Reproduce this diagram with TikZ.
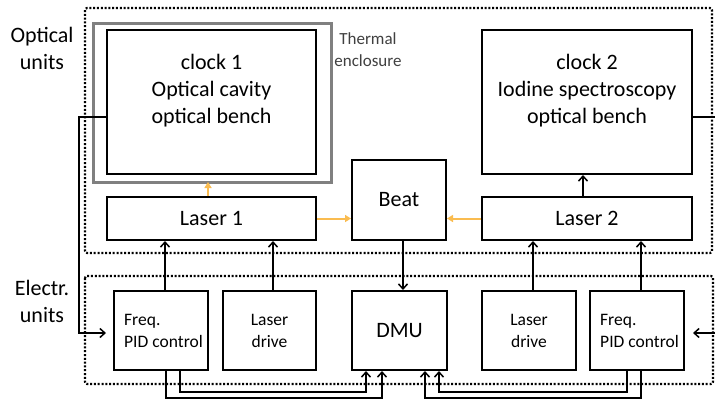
\documentclass[tikz,border=0pt]{standalone}
\usepackage{fontspec}
\setmainfont{Carlito}
\usetikzlibrary{arrows.meta,calc}
\definecolor{laserorange}{RGB}{250,188,80}
\definecolor{encgray}{RGB}{128,128,128}
\definecolor{txtgray}{RGB}{64,64,64}
\begin{document}
\begin{tikzpicture}[x=1pt,y=-1pt,
  box/.style={draw,line width=2pt,inner sep=0pt},
  bigtxt/.style={font=\fontsize{22}{27}\selectfont,align=center,inner sep=0pt},
  smalltxt/.style={font=\fontsize{17.5}{22}\selectfont,inner sep=0pt},
  conn/.style={line width=1.5pt,-{Straight Barb[length=5pt,width=9pt,line width=1.5pt]}},
  beam/.style={line width=2pt,laserorange,-{Triangle[length=6pt,width=7pt]}},
  unitbox/.style={line width=2.2pt,dash pattern=on 2pt off 1.8pt,rounded corners=2pt}]
\useasboundingbox (0,0) rectangle (715,402);
\clip (0,0) rectangle (715,402);
\fill[white] (0,0) rectangle (715,402);
% unit frames
\draw[unitbox] (85,8) rectangle (712,253);
\draw[unitbox] (85,276) rectangle (713,384);
\node[bigtxt] (optlbl) at (42,48) {Optical\\units};
\node[bigtxt] (eleclbl) at (42,301) {Electr.\\units};
% thermal enclosure
\draw[encgray,line width=3pt] (93,23) rectangle (331,182);
\node[font=\fontsize{17}{22}\selectfont,text=txtgray,align=center,inner sep=0pt] (thermlbl) at (368,50) {Thermal\\enclosure};
% optical boxes
\node[box,minimum width=209pt,minimum height=144pt] (clock1) at (211.5,102) {};
\node[bigtxt] (clock1txt) at (211.5,90.5) {clock 1\\Optical cavity\\optical bench};
\node[box,minimum width=210pt,minimum height=144pt] (clock2) at (587,102) {};
\node[bigtxt] (clock2txt) at (587,90.5) {clock 2\\Iodine spectroscopy\\optical bench};
\node[box,minimum width=209pt,minimum height=43pt,bigtxt] (laser1) at (211.5,218.5) {Laser 1};
\node[box,minimum width=210pt,minimum height=43pt,bigtxt] (laser2) at (587,218.5) {Laser 2};
\node[box,minimum width=94pt,minimum height=80pt,bigtxt] (beat) at (399,200) {Beat};
% electronic boxes
\node[box,minimum width=94pt,minimum height=79pt] (freq1) at (161,330.5) {};
\node[smalltxt,anchor=west,align=left] (freq1txt) at (124,331) {Freq.\\PID control};
\node[box,minimum width=93pt,minimum height=79pt,smalltxt,align=center] (drive1) at (269.5,330.5) {Laser\\drive};
\node[box,minimum width=95pt,minimum height=79pt,bigtxt] (dmu) at (399.5,330.5) {DMU};
\node[box,minimum width=94pt,minimum height=79pt,smalltxt,align=center] (drive2) at (529,330.5) {Laser\\drive};
\node[box,minimum width=94pt,minimum height=79pt] (freq2) at (637,330.5) {};
\node[smalltxt,anchor=west,align=left] (freq2txt) at (600,331) {Freq.\\PID control};
% laser beams
\draw[beam] ([xshift=-3.5pt]laser1.north) -- ([xshift=-3.5pt]laser1.north |- 0,182);
\draw[beam] (laser1.east) -- (beat.west |- laser1.east);
\draw[beam] (laser2.west) -- (beat.east |- laser2.west);
\draw[conn] ([xshift=-4pt]laser2.north) -- ([xshift=-4pt]laser2.north |- clock2.south);
% electronics to lasers
\draw[conn] ([xshift=4pt]freq1.north) -- ([xshift=4pt]freq1.north |- laser1.south);
\draw[conn] ([xshift=3.5pt]drive1.north) -- ([xshift=3.5pt]drive1.north |- laser1.south);
\draw[conn] ([xshift=4pt]drive2.north) -- ([xshift=4pt]drive2.north |- laser2.south);
\draw[conn] ([xshift=4pt]freq2.north) -- ([xshift=4pt]freq2.north |- laser2.south);
\draw[conn] ([xshift=4pt]beat.south) -- ([xshift=4pt]beat.south |- dmu.north);
% clock error signals to PID controllers
\coordinate (lft1) at (79,117);
\coordinate (lft2) at (79,333);
\draw[conn,shorten >=7pt] (clock1.west |- lft1) -- (lft1) -- (lft2) -- (freq1.west |- lft2);
\coordinate (rgt1) at (716,117);
\coordinate (rgt2) at (716,333);
\draw[conn,shorten >=8pt] (clock2.east |- rgt1) -- (rgt1) -- (rgt2) -- (freq2.east |- rgt2);
% PID outputs to DMU
\draw[conn] ([xshift=5pt]freq1.south) |- (382,398) -- ([xshift=-17.5pt]dmu.south);
\draw[conn] ([xshift=19pt]freq1.south) |- (366,392) -- ([xshift=-33.5pt]dmu.south);
\draw[conn] ([xshift=-10pt]freq2.south) |- (439,392) -- ([xshift=39.5pt]dmu.south);
\draw[conn] ([xshift=4pt]freq2.south) |- (425,398) -- ([xshift=25.5pt]dmu.south);
\end{tikzpicture}
\end{document}
